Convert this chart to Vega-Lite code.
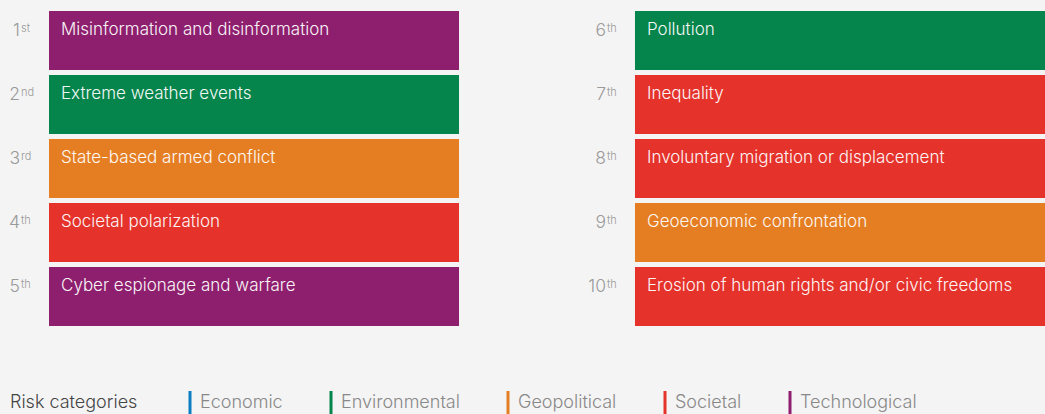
{
  "$schema": "https://vega.github.io/schema/vega-lite/v6.json",
  "width": 1045,
  "height": 414,
  "autosize": "none",
  "padding": 0,
  "background": "#f4f4f4",
  "config": {
    "view": {"stroke": null},
    "font": "Inter"
  },
  "data": {
    "values": [
      {"rank": 1, "num": "1", "suffix": "st", "risk": "Misinformation and disinformation", "category": "Technological", "column": "left", "row": 1},
      {"rank": 2, "num": "2", "suffix": "nd", "risk": "Extreme weather events", "category": "Environmental", "column": "left", "row": 2},
      {"rank": 3, "num": "3", "suffix": "rd", "risk": "State-based armed conflict", "category": "Geopolitical", "column": "left", "row": 3},
      {"rank": 4, "num": "4", "suffix": "th", "risk": "Societal polarization", "category": "Societal", "column": "left", "row": 4},
      {"rank": 5, "num": "5", "suffix": "th", "risk": "Cyber espionage and warfare", "category": "Technological", "column": "left", "row": 5},
      {"rank": 6, "num": "6", "suffix": "th", "risk": "Pollution", "category": "Environmental", "column": "right", "row": 1},
      {"rank": 7, "num": "7", "suffix": "th", "risk": "Inequality", "category": "Societal", "column": "right", "row": 2},
      {"rank": 8, "num": "8", "suffix": "th", "risk": "Involuntary migration or displacement", "category": "Societal", "column": "right", "row": 3},
      {"rank": 9, "num": "9", "suffix": "th", "risk": "Geoeconomic confrontation", "category": "Geopolitical", "column": "right", "row": 4},
      {"rank": 10, "num": "10", "suffix": "th", "risk": "Erosion of human rights and/or civic freedoms", "category": "Societal", "column": "right", "row": 5}
    ]
  },
  "encoding": {
    "x": {
      "field": "column", "type": "nominal", "axis": null,
      "scale": {"domain": ["left", "right"], "range": [49, 1045], "paddingInner": 0.3003, "paddingOuter": 0}
    },
    "y": {
      "field": "row", "type": "ordinal", "axis": null,
      "scale": {"domain": [1, 2, 3, 4, 5], "range": [11, 326], "paddingInner": 0.078125, "paddingOuter": 0}
    }
  },
  "layer": [
    {
      "mark": {"type": "rect"},
      "encoding": {
        "color": {
          "field": "category", "type": "nominal",
          "scale": {
            "domain": ["Economic", "Environmental", "Geopolitical", "Societal", "Technological"],
            "range": ["#0b7dc1", "#05844b", "#e57e22", "#e5322b", "#8e1f6e"]
          },
          "legend": {
            "title": "Risk categories",
            "orient": "none",
            "legendX": 10,
            "legendY": 391,
            "direction": "horizontal",
            "titleOrient": "left",
            "titleFontSize": 18,
            "titleFontWeight": 300,
            "titleColor": "#444444",
            "titlePadding": 40,
            "symbolType": "M-0.125,-1H0.125V1H-0.125Z",
            "symbolSize": 576,
            "symbolStrokeWidth": 0,
            "symbolOpacity": 1,
            "labelFontSize": 18,
            "labelFontWeight": 300,
            "labelColor": "#888888",
            "labelOffset": -2,
            "columnPadding": 36
          }
        }
      }
    },
    {
      "mark": {"type": "text", "align": "left", "baseline": "alphabetic", "dx": 12, "dy": 24, "fontSize": 17, "fontWeight": 300, "color": "#ffffff", "opacity": 0.95},
      "encoding": {
        "x": {"field": "column", "type": "nominal", "bandPosition": 0},
        "y": {"field": "row", "type": "ordinal", "bandPosition": 0},
        "text": {"field": "risk"}
      }
    },
    {
      "mark": {"type": "text", "align": "right", "baseline": "alphabetic", "dx": -29, "dy": 25, "fontSize": 17.5, "fontWeight": 300, "color": "#9a9a9a"},
      "encoding": {
        "x": {"field": "column", "type": "nominal", "bandPosition": 0},
        "y": {"field": "row", "type": "ordinal", "bandPosition": 0},
        "text": {"field": "num"}
      }
    },
    {
      "mark": {"type": "text", "align": "left", "baseline": "alphabetic", "dx": -28, "dy": 20.5, "fontSize": 11, "fontWeight": 300, "color": "#9a9a9a"},
      "encoding": {
        "x": {"field": "column", "type": "nominal", "bandPosition": 0},
        "y": {"field": "row", "type": "ordinal", "bandPosition": 0},
        "text": {"field": "suffix"}
      }
    }
  ]
}
